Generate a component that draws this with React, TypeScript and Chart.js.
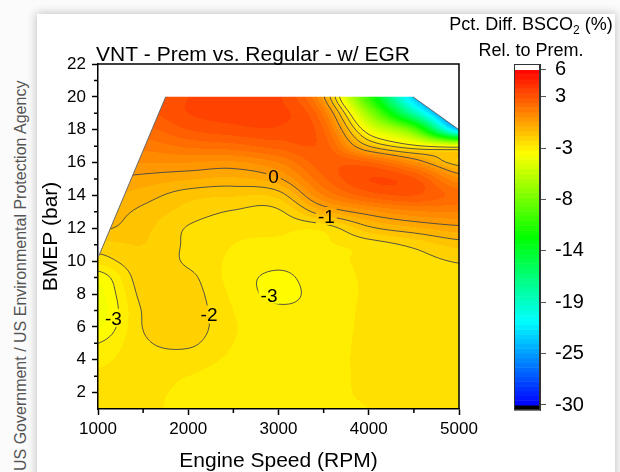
import React, { useEffect, useRef } from 'react';
import { Chart, registerables } from 'chart.js';

Chart.register(...registerables);

const FONT = '"Liberation Sans", Arial, Helvetica, sans-serif';

// ---- grid of the contour data (value per BMEP row, one array per engine speed) ----
const rpmGrid = [1000, 1500, 2000, 2500, 3000, 3500, 4000, 4500, 5000];
const bmepGrid = [1, 2, 3, 4, 5, 6, 7, 8, 9, 10, 11, 12, 13, 14, 15, 16, 17, 18, 19, 20];
const at1000 = [-2.4, -2.4, -2.45, -2.6, -3.0, -3.6, -3.8, -3.7, -3.4, -2.3, -1.7, -0.9, -0.65, -0.35, 0.0, 0.6, 1.2, 1.7, 2.1, 2.4];
const at1500 = [-2.4, -2.4, -2.35, -2.25, -2.1, -1.98, -1.95, -1.8, -1.65, -1.6, -1.5, -1.35, -1.15, -0.75, -0.2, 0.5, 1.2, 1.8, 2.3, 2.6];
const at2000 = [-2.65, -2.6, -2.5, -2.25, -1.9, -1.7, -1.7, -1.75, -1.85, -2.1, -2.1, -2.05, -1.7, -1.3, -0.45, 0.5, 1.6, 2.5, 3.0, 3.0];
const at2500 = [-2.8, -2.8, -2.75, -2.6, -2.5, -2.45, -2.5, -2.6, -2.7, -2.6, -2.5, -2.35, -2.05, -1.45, -0.6, 0.4, 1.8, 2.8, 3.2, 3.1];
const at3000 = [-2.85, -2.85, -2.8, -2.75, -2.75, -2.8, -2.9, -3.15, -3.1, -2.85, -2.6, -2.4, -2.1, -1.3, -0.1, 1.0, 2.2, 2.9, 3.2, 3.1];
const at3500 = [-2.7, -2.7, -2.75, -2.8, -2.85, -2.85, -2.8, -2.75, -2.7, -2.65, -2.55, -2.35, -0.6, 1.0, 1.9, 2.3, 2.3, 2.0, 1.3, 0.1];
const at4000 = [-2.5, -2.4, -2.35, -2.3, -2.3, -2.35, -2.4, -2.45, -2.45, -2.4, -2.3, -1.15, 0.3, 2.2, 3.0, 2.1, -1.0, -3.8, -7.0, -10.5];
const at4500 = [-2.35, -2.3, -2.25, -2.25, -2.25, -2.3, -2.35, -2.4, -2.4, -2.25, -1.85, -0.6, 0.9, 2.5, 2.6, 0.6, -2.7, -9.0, -18, -23];
const at5000 = [-2.3, -2.3, -2.25, -2.25, -2.25, -2.3, -2.3, -2.3, -2.2, -1.95, -1.3, -0.2, 1.0, 1.8, 0.6, -1.4, -3.6, -23, -28, -30];
const columns = [at1000, at1500, at2000, at2500, at3000, at3500, at4000, at4500, at5000];

// data region (outline of the measured map)
const boundaryRpm = [1000, 1000, 1750, 4490, 5000, 5000];
const boundaryBmep = [1, 10.2, 20, 20, 18, 1];

// contour lines and their labels
const contourLevels = [-3, -2, -1, 0];
const labelText = ['0', '-1', '-2', '-3', '-3'];
const labelRpm = [2945, 3530, 2230, 1170, 2895];
const labelBmep = [15.2, 12.75, 6.75, 6.55, 7.95];

// axes
const xTicks = [1000, 2000, 3000, 4000, 5000];
const xMinorTicks = [1500, 2500, 3500, 4500];
const yTicks = [2, 4, 6, 8, 10, 12, 14, 16, 18, 20, 22];
const yMinorTicks = [3, 5, 7, 9, 11, 13, 15, 17, 19, 21];

// colour scale
const cbTickValues = [5.55, 2.6, -2.85, -8.3, -13.7, -19.15, -24.6, -30];
const cbLow = -30;
const cbHigh = 5.55;
const cbMin = -30.53;
const cbMax = 6.08;
const bandStep = 0.5;

const TITLE = 'VNT - Prem vs. Regular - w/ EGR';
const X_TITLE = 'Engine Speed (RPM)';
const Y_TITLE = 'BMEP (bar)';

function clamp(v: number, a: number, b: number) {
  return Math.max(a, Math.min(b, v));
}

function g(i: number, j: number) {
  return columns[clamp(i, 0, columns.length - 1)][clamp(j, 0, bmepGrid.length - 1)];
}

function cr(p0: number, p1: number, p2: number, p3: number, t: number) {
  return 0.5 * (2 * p1 + (-p0 + p2) * t + (2 * p0 - 5 * p1 + 4 * p2 - p3) * t * t + (-p0 + 3 * p1 - 3 * p2 + p3) * t * t * t);
}

function fieldValue(rpm: number, bmep: number) {
  const fx = (rpm - rpmGrid[0]) / (rpmGrid[1] - rpmGrid[0]);
  const fy = (bmep - bmepGrid[0]) / (bmepGrid[1] - bmepGrid[0]);
  const ix = clamp(Math.floor(fx), 0, rpmGrid.length - 2);
  const iy = clamp(Math.floor(fy), 0, bmepGrid.length - 2);
  const tx = clamp(fx - ix, 0, 1);
  const ty = clamp(fy - iy, 0, 1);
  const rows: number[] = [];
  for (let m = -1; m <= 2; m++) {
    rows.push(cr(g(ix - 1, iy + m), g(ix, iy + m), g(ix + 1, iy + m), g(ix + 2, iy + m), tx));
  }
  let v = cr(rows[0], rows[1], rows[2], rows[3], ty);
  const a = g(ix, iy), b = g(ix + 1, iy), c = g(ix, iy + 1), d = g(ix + 1, iy + 1);
  v = clamp(v, Math.min(a, b, c, d), Math.max(a, b, c, d));
  return v;
}

function colorFor(v: number): [number, number, number] {
  if (v > cbHigh) return [255, 255, 255];
  if (v < cbLow) return [0, 0, 0];
  const hue = ((cbHigh - v) / (cbHigh - cbLow)) * 240;
  const s = Math.floor(hue / 60);
  const f = hue / 60 - s;
  switch (s) {
    case 0: return [255, Math.round(f * 255), 0];
    case 1: return [Math.round((1 - f) * 255), 255, 0];
    case 2: return [0, 255, Math.round(f * 255)];
    case 3: return [0, Math.round((1 - f) * 255), 255];
    default: return [0, 0, 255];
  }
}

function quant(v: number) {
  return Math.floor(v / bandStep) * bandStep + bandStep / 2;
}

function polygonPath(ctx: CanvasRenderingContext2D, chart: any) {
  const xs = chart.scales.x, ys = chart.scales.y;
  ctx.beginPath();
  boundaryRpm.forEach((r, k) => {
    const px = xs.getPixelForValue(r), py = ys.getPixelForValue(boundaryBmep[k]);
    if (k === 0) ctx.moveTo(px, py); else ctx.lineTo(px, py);
  });
  ctx.closePath();
}

const fieldPlugin = {
  id: 'contourField',
  beforeDraw(chart: any) {
    const ctx: CanvasRenderingContext2D = chart.ctx;
    const { left, top, right, bottom } = chart.chartArea;
    const xs = chart.scales.x, ys = chart.scales.y;
    const x0 = Math.floor(left), y0 = Math.floor(top);
    const w = Math.ceil(right) - x0, h = Math.ceil(bottom) - y0;
    const off = document.createElement('canvas');
    off.width = w; off.height = h;
    const octx = off.getContext('2d')!;
    const img = octx.createImageData(w, h);
    for (let j = 0; j < h; j++) {
      const bmep = ys.getValueForPixel(y0 + j + 0.5);
      for (let i = 0; i < w; i++) {
        const rpm = xs.getValueForPixel(x0 + i + 0.5);
        const [r, gg, b] = colorFor(quant(fieldValue(rpm, bmep)));
        const k = (j * w + i) * 4;
        img.data[k] = r; img.data[k + 1] = gg; img.data[k + 2] = b; img.data[k + 3] = 255;
      }
    }
    octx.putImageData(img, 0, 0);
    ctx.save();
    polygonPath(ctx, chart);
    ctx.clip();
    ctx.drawImage(off, x0, y0);
    ctx.restore();
  },
  afterDraw(chart: any) {
    const ctx: CanvasRenderingContext2D = chart.ctx;
    const { left, top, right, bottom } = chart.chartArea;
    const xs = chart.scales.x, ys = chart.scales.y;

    // contour lines (marching squares over the field)
    const labelFont = `19px ${FONT}`;
    ctx.save();
    ctx.font = labelFont;
    const rects = labelText.map((t, k) => {
      const w = ctx.measureText(t).width + 4;
      const cx = xs.getPixelForValue(labelRpm[k]);
      const cy = ys.getPixelForValue(labelBmep[k]);
      return { cx, cy, w, h: 18 };
    });
    polygonPath(ctx, chart);
    ctx.clip();
    ctx.beginPath();
    ctx.rect(0, 0, chart.width, chart.height);
    rects.forEach((r) => ctx.rect(r.cx - r.w / 2, r.cy - r.h / 2, r.w, r.h));
    ctx.clip('evenodd');

    const step = 2;
    const w = right - left, h = bottom - top;
    const nx = Math.ceil(w / step), ny = Math.ceil(h / step);
    const pxs: number[] = [], pys: number[] = [];
    for (let i = 0; i <= nx; i++) pxs.push(left + Math.min(i * step, w));
    for (let j = 0; j <= ny; j++) pys.push(top + Math.min(j * step, h));
    const vals = new Float64Array((nx + 1) * (ny + 1));
    for (let j = 0; j <= ny; j++) {
      const bmep = ys.getValueForPixel(pys[j]);
      for (let i = 0; i <= nx; i++) vals[j * (nx + 1) + i] = fieldValue(xs.getValueForPixel(pxs[i]), bmep);
    }
    const V = (i: number, j: number) => vals[j * (nx + 1) + i];
    ctx.beginPath();
    for (const L of contourLevels) {
      for (let j = 0; j < ny; j++) {
        for (let i = 0; i < nx; i++) {
          const a = V(i, j), b = V(i + 1, j), c = V(i + 1, j + 1), d = V(i, j + 1);
          const xa = pxs[i], xb = pxs[i + 1], ya = pys[j], yb = pys[j + 1];
          const pts: [number, number][] = [];
          if ((a < L) !== (b < L)) pts.push([xa + ((L - a) / (b - a)) * (xb - xa), ya]);
          if ((b < L) !== (c < L)) pts.push([xb, ya + ((L - b) / (c - b)) * (yb - ya)]);
          if ((c < L) !== (d < L)) pts.push([xb + ((L - c) / (d - c)) * (xa - xb), yb]);
          if ((d < L) !== (a < L)) pts.push([xa, yb + ((L - d) / (a - d)) * (ya - yb)]);
          if (pts.length >= 2) { ctx.moveTo(pts[0][0], pts[0][1]); ctx.lineTo(pts[1][0], pts[1][1]); }
          if (pts.length === 4) { ctx.moveTo(pts[2][0], pts[2][1]); ctx.lineTo(pts[3][0], pts[3][1]); }
        }
      }
    }
    ctx.strokeStyle = 'rgba(70,70,70,0.9)';
    ctx.lineWidth = 1;
    ctx.stroke();
    ctx.restore();

    // slanted outline edges of the data region
    ctx.save();
    ctx.strokeStyle = '#6a6a6a';
    ctx.lineWidth = 1;
    ctx.beginPath();
    ctx.moveTo(xs.getPixelForValue(boundaryRpm[1]), ys.getPixelForValue(boundaryBmep[1]));
    ctx.lineTo(xs.getPixelForValue(boundaryRpm[2]), ys.getPixelForValue(boundaryBmep[2]));
    ctx.moveTo(xs.getPixelForValue(boundaryRpm[3]), ys.getPixelForValue(boundaryBmep[3]));
    ctx.lineTo(xs.getPixelForValue(boundaryRpm[4]), ys.getPixelForValue(boundaryBmep[4]));
    ctx.stroke();
    ctx.restore();

    // contour labels
    ctx.save();
    ctx.font = labelFont;
    ctx.fillStyle = '#000';
    ctx.textAlign = 'center';
    ctx.textBaseline = 'alphabetic';
    rects.forEach((r, k) => ctx.fillText(labelText[k], r.cx, r.cy + 0.36 * 19));
    ctx.restore();

    // frame (top and right) + minor ticks
    ctx.save();
    ctx.strokeStyle = '#000';
    ctx.lineWidth = 1.5;
    ctx.beginPath();
    ctx.moveTo(left, top); ctx.lineTo(right, top); ctx.lineTo(right, bottom);
    xMinorTicks.forEach((v) => { const p = xs.getPixelForValue(v); ctx.moveTo(p, bottom); ctx.lineTo(p, bottom + 4); });
    yMinorTicks.forEach((v) => { const p = ys.getPixelForValue(v); ctx.moveTo(left, p); ctx.lineTo(left - 4, p); });
    ctx.stroke();
    ctx.restore();

    // titles
    ctx.save();
    ctx.fillStyle = '#000';
    ctx.font = `21px ${FONT}`;
    ctx.textAlign = 'left';
    ctx.textBaseline = 'alphabetic';
    ctx.fillText(TITLE, left - 2, top - 3);
    ctx.textAlign = 'center';
    ctx.fillText(X_TITLE, (left + right) / 2, 467);
    ctx.translate(57, (top + bottom) / 2);
    ctx.rotate(-Math.PI / 2);
    ctx.fillText(Y_TITLE, 0, 0);
    ctx.restore();
  },
};

const colorbarPlugin = {
  id: 'colorbar',
  beforeDraw(chart: any) {
    const ctx: CanvasRenderingContext2D = chart.ctx;
    const ys = chart.scales.y;
    const { left, right } = chart.chartArea;
    const band = (lo: number, hi: number, col: [number, number, number]) => {
      const y1 = ys.getPixelForValue(hi), y2 = ys.getPixelForValue(lo);
      ctx.fillStyle = `rgb(${col[0]},${col[1]},${col[2]})`;
      ctx.fillRect(left, y1, right - left, y2 - y1 + 0.5);
    };
    band(cbMin, cbLow, [0, 0, 0]);
    for (let v = cbLow; v < cbHigh - 1e-9; v += bandStep) {
      const hi = Math.min(v + bandStep, cbHigh);
      band(v, hi, colorFor(v + bandStep / 2));
    }
    band(cbHigh, cbMax, [255, 255, 255]);
  },
  afterDraw(chart: any) {
    const ctx: CanvasRenderingContext2D = chart.ctx;
    const { left, top, right, bottom } = chart.chartArea;
    ctx.save();
    ctx.strokeStyle = '#333';
    ctx.lineWidth = 1;
    ctx.strokeRect(left + 0.5, top + 0.5, right - left - 1, bottom - top - 1);
    // title of the colour scale
    ctx.fillStyle = '#000';
    ctx.textBaseline = 'alphabetic';
    ctx.textAlign = 'left';
    const cx = 531;
    const big = `18px ${FONT}`, small = `12px ${FONT}`;
    const p1 = 'Pct. Diff. BSCO', p2 = '2', p3 = ' (%)';
    ctx.font = big; const w1 = ctx.measureText(p1).width; const w3 = ctx.measureText(p3).width;
    ctx.font = small; const w2 = ctx.measureText(p2).width;
    let x = cx - (w1 + w2 + w3) / 2;
    ctx.font = big; ctx.fillText(p1, x, 30); x += w1;
    ctx.font = small; ctx.fillText(p2, x, 34); x += w2;
    ctx.font = big; ctx.fillText(p3, x, 30);
    ctx.textAlign = 'center';
    ctx.fillText('Rel. to Prem.', cx, 56);
    ctx.restore();
  },
};

export default function App() {
  const mainRef = useRef<HTMLCanvasElement>(null);
  const cbRef = useRef<HTMLCanvasElement>(null);

  useEffect(() => {
    Chart.defaults.font.family = FONT;
    const tickFont = { family: FONT, size: 17 };
    const grid = { display: true, drawOnChartArea: false, drawTicks: true, tickLength: 6, tickWidth: 1.5, tickColor: '#000', color: '#000' };
    const border = { display: true, color: '#000', width: 1.5 };

    const main = new Chart(mainRef.current!, {
      type: 'scatter',
      data: { datasets: [] },
      options: {
        responsive: false,
        animation: false,
        layout: { padding: { left: 38, top: 64, right: 161, bottom: 33 } },
        plugins: { legend: { display: false }, tooltip: { enabled: false } },
        scales: {
          x: {
            type: 'linear', min: 1000, max: 5000,
            afterBuildTicks: (s: any) => { s.ticks = xTicks.map((v) => ({ value: v })); },
            afterFit: (s: any) => { s.height = 30; },
            ticks: { font: tickFont, color: '#000', padding: 4, maxRotation: 0, autoSkip: false, callback: (v: any) => String(v) },
            grid, border,
          },
          y: {
            type: 'linear', min: 1, max: 22,
            afterBuildTicks: (s: any) => { s.ticks = yTicks.map((v) => ({ value: v })); },
            afterFit: (s: any) => { s.width = 60; },
            ticks: { font: tickFont, color: '#000', padding: 6, autoSkip: false, callback: (v: any) => String(v) },
            grid, border,
          },
        },
      } as any,
      plugins: [fieldPlugin],
    });

    const cb = new Chart(cbRef.current!, {
      type: 'scatter',
      data: { datasets: [] },
      options: {
        responsive: false,
        animation: false,
        layout: { padding: { left: 514, top: 64, right: 20, bottom: 62 } },
        plugins: { legend: { display: false }, tooltip: { enabled: false } },
        scales: {
          x: { display: false, min: 0, max: 1 },
          y: {
            type: 'linear', position: 'right', min: cbMin, max: cbMax,
            afterBuildTicks: (s: any) => { s.ticks = cbTickValues.map((v) => ({ value: v })); },
            afterFit: (s: any) => { s.width = 60; },
            ticks: { font: { family: FONT, size: 20 }, color: '#000', padding: 9, autoSkip: false, callback: (v: any) => String(Math.round(Number(v))) },
            grid: { display: true, drawOnChartArea: false, drawTicks: true, tickLength: 6, tickWidth: 1, tickColor: '#555' },
            border: { display: true, color: '#333', width: 1 },
          },
        },
      } as any,
      plugins: [colorbarPlugin],
    });

    return () => { main.destroy(); cb.destroy(); };
  }, []);

  return (
    <div style={{ position: 'fixed', left: 0, top: 0, width: 620, height: 472, background: '#fbfbfb', overflow: 'hidden' }}>
      <div style={{ position: 'absolute', left: 37, top: 14, width: 578, height: 480, background: '#fff', boxShadow: '0 0 9px 1px rgba(0,0,0,0.22)' }} />
      <div
        style={{
          position: 'absolute', left: 13, top: 471, transformOrigin: '0 0', transform: 'rotate(-90deg)',
          whiteSpace: 'nowrap', fontFamily: FONT, fontSize: 16, lineHeight: '16px', color: '#555',
        }}
      >
        US Government / US Environmental Protection Agency
      </div>
      <canvas ref={mainRef} width={620} height={472} style={{ position: 'absolute', left: 0, top: 0, display: 'block' }} />
      <canvas ref={cbRef} width={620} height={472} style={{ position: 'absolute', left: 0, top: 0, display: 'block' }} />
    </div>
  );
}
